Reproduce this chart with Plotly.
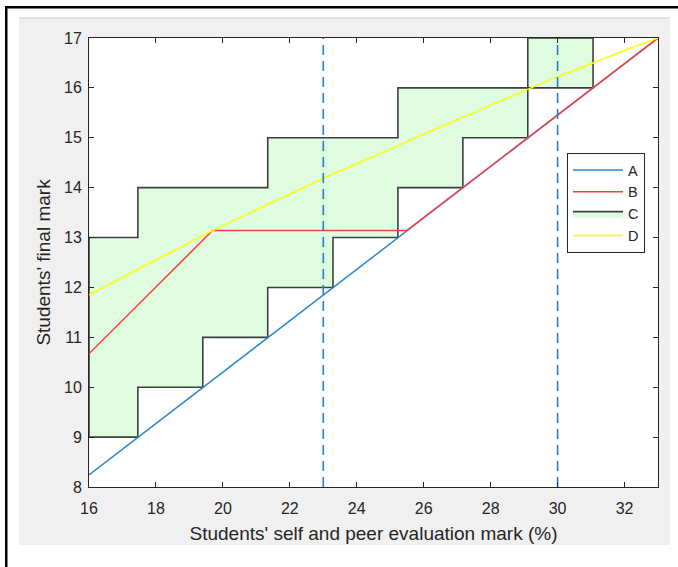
import plotly.graph_objects as go

# ---- data ----
a_x = [16, 33]
a_y = [8.24, 17]

b_x = [16, 19.69, 25.49, 33]
b_y = [10.67, 13.14, 13.14, 17]

c_x = [16, 17.46, 17.46, 19.40, 19.40, 21.34, 21.34, 23.29, 23.29, 25.23, 25.23,
       27.17, 27.17, 29.11, 29.11, 31.06, 31.06, 29.11, 29.11, 25.23, 25.23,
       21.34, 21.34, 17.46, 17.46, 16, 16]
c_y = [9, 9, 10, 10, 11, 11, 12, 12, 13, 13, 14,
       14, 15, 15, 16, 16, 17, 17, 16, 16, 15,
       15, 14, 14, 13, 13, 9]

d_x = [16, 18, 19.69, 20, 22, 23.2, 24, 26, 28, 29.14, 30, 31.06, 32, 33]
d_y = [11.85, 12.55, 13.14, 13.24, 13.87, 14.245, 14.48, 15.07, 15.65, 15.98,
       16.22, 16.50, 16.75, 17.0]

limits = [23, 30]

x_ticks = [16, 18, 20, 22, 24, 26, 28, 30, 32]
y_ticks = [8, 9, 10, 11, 12, 13, 14, 15, 16, 17]

x_title = "Students' self and peer evaluation mark (%)"
y_title = "Students' final mark"

# ---- figure ----
W, H = 678, 567
L, R, T, B = 89, 20, 38, 80
PW, PH = W - L - R, H - T - B


def px(x):
    return (x - L) / PW


def py(y):
    return (H - B - y) / PH


axis_col = "#262626"
fig = go.Figure()

fig.add_trace(go.Scatter(
    x=c_x, y=c_y, mode="lines", fill="toself", name="C",
    fillcolor="rgb(224,252,224)",
    line=dict(color="rgba(0,0,0,0.75)", width=1.6), legendrank=3))

fig.add_trace(go.Scatter(
    x=a_x, y=a_y, mode="lines", name="A",
    line=dict(color="rgb(40,135,205)", width=1.5), legendrank=1))

fig.add_trace(go.Scatter(
    x=b_x, y=b_y, mode="lines", name="B",
    line=dict(color="rgb(255,60,60)", width=1.5), legendrank=2))

fig.add_trace(go.Scatter(
    x=d_x, y=d_y, mode="lines", name="D", line_shape="spline",
    line=dict(color="rgb(255,255,0)", width=1.5), legendrank=4))

for xv in limits:
    fig.add_trace(go.Scatter(
        x=[xv, xv], y=[8, 17], mode="lines", showlegend=False,
        line=dict(color="rgb(30,130,205)", width=1.6, dash="10px,6px")))

shapes = []
white = "white"
shapes.append(dict(type="rect", xref="paper", yref="paper", layer="below",
                   x0=px(0), x1=px(W), y0=py(17), y1=py(0), fillcolor=white, line_width=0))
shapes.append(dict(type="rect", xref="paper", yref="paper", layer="below",
                   x0=px(0), x1=px(19), y0=py(H), y1=py(0), fillcolor=white, line_width=0))
shapes.append(dict(type="rect", xref="paper", yref="paper", layer="below",
                   x0=px(670), x1=px(W), y0=py(H), y1=py(0), fillcolor=white, line_width=0))
shapes.append(dict(type="rect", xref="paper", yref="paper", layer="below",
                   x0=px(0), x1=px(W), y0=py(H), y1=py(545), fillcolor=white, line_width=0))
shapes.append(dict(type="rect", xref="paper", yref="paper", layer="below",
                   x0=px(19), x1=px(670), y0=py(19), y1=py(17), fillcolor="#e2e2e2", line_width=0))
shapes.append(dict(type="rect", xref="paper", yref="paper", layer="above",
                   x0=px(5), x1=px(W), y0=py(8.5), y1=py(6), fillcolor="black", line_width=0))
shapes.append(dict(type="rect", xref="paper", yref="paper", layer="above",
                   x0=px(5), x1=px(7.5), y0=py(H), y1=py(6), fillcolor="black", line_width=0))

fig.update_layout(
    width=W, height=H,
    margin=dict(l=L, r=R, t=T, b=B, pad=0),
    paper_bgcolor="#f0f0f0", plot_bgcolor="white",
    font=dict(family="Liberation Sans, Arial, sans-serif", size=16, color=axis_col),
    shapes=shapes,
    showlegend=True,
    legend=dict(x=px(567), y=py(153), xanchor="left", yanchor="top",
                bgcolor="white", bordercolor=axis_col, borderwidth=1,
                font=dict(size=14.5, color=axis_col), tracegroupgap=0,
                itemwidth=50),
    xaxis=dict(range=[16, 33], tickvals=x_ticks, ticks="inside", ticklen=5,
               tickcolor=axis_col, showline=True, linecolor=axis_col, linewidth=1,
               mirror="ticks", showgrid=False, zeroline=False,
               tickfont=dict(size=16), ticklabelstandoff=7,
               title=dict(text=x_title, font=dict(size=19), standoff=10)),
    yaxis=dict(range=[8, 17], tickvals=y_ticks, ticks="inside", ticklen=5,
               tickcolor=axis_col, showline=True, linecolor=axis_col, linewidth=1,
               mirror="ticks", showgrid=False, zeroline=False,
               tickfont=dict(size=16), ticklabelstandoff=3,
               title=dict(text=y_title, font=dict(size=19), standoff=8)),
)

fig.write_html("out.html", config={"responsive": False, "displayModeBar": False},
               post_script="document.body.style.margin='0';")
